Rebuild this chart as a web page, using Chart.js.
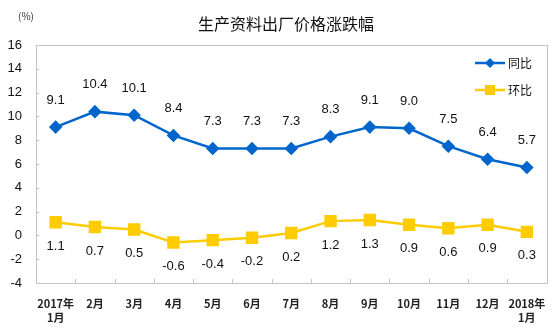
<!DOCTYPE html>
<html>
<head>
<meta charset="utf-8">
<script src="https://cdn.jsdelivr.net/npm/chart.js@4.4.1/dist/chart.umd.min.js"></script>
<style>
  html, body { margin: 0; padding: 0; background: #fff; }
  #wrap { width: 556px; height: 331px; }
</style>
</head>
<body>
<div id="wrap"><canvas id="c" width="556" height="331"></canvas></div>
<script>
// Monthly labels (Jan 2017 – Jan 2018)
const months = [["2017年", "1月"], "2月", "3月", "4月", "5月", "6月", "7月", "8月", "9月", "10月", "11月", "12月", ["2018年", "1月"]];
// Year-on-year change, %
const yoy = [9.1, 10.4, 10.1, 8.4, 7.3, 7.3, 7.3, 8.3, 9.1, 9.0, 7.5, 6.4, 5.7];
// Month-on-month change, %
const mom = [1.1, 0.7, 0.5, -0.6, -0.4, -0.2, 0.2, 1.2, 1.3, 0.9, 0.6, 0.9, 0.3];
const yTicks = [-4, -2, 0, 2, 4, 6, 8, 10, 12, 14, 16];

const BLUE = '#0066CC';
const YELLOW = '#FFCC00';
const NUM_FONT = '13px "Liberation Sans", Arial, sans-serif';
const CJK_FONT = '"Noto Sans CJK SC", sans-serif';

const decor = {
  id: 'decor',
  afterDatasetsDraw(chart) {
    const ctx = chart.ctx;
    const a = chart.chartArea;
    ctx.save();
    // plot frame
    ctx.strokeStyle = '#C4C4C4';
    ctx.lineWidth = 1;
    ctx.strokeRect(Math.round(a.left) + 0.5, Math.round(a.top) + 0.5,
                   Math.round(a.right - a.left), Math.round(a.bottom - a.top));
    // inward tick marks
    const xs = chart.scales.x, ys = chart.scales.y;
    ctx.beginPath();
    for (let i = 1; i < months.length; i++) {
      const x = Math.round((xs.getPixelForValue(i - 1) + xs.getPixelForValue(i)) / 2) + 0.5;
      ctx.moveTo(x, a.bottom); ctx.lineTo(x, a.bottom - 4);
    }
    yTicks.forEach(v => {
      const y = Math.round(ys.getPixelForValue(v)) + 0.5;
      ctx.moveTo(a.left, y); ctx.lineTo(a.left + 3, y);
    });
    ctx.stroke();

    // value labels
    ctx.fillStyle = '#111';
    ctx.font = NUM_FONT;
    ctx.textAlign = 'center';
    ctx.textBaseline = 'middle';
    chart.getDatasetMeta(0).data.forEach((p, i) => {
      ctx.fillText(yoy[i].toFixed(1), p.x, p.y - 27);
    });
    chart.getDatasetMeta(1).data.forEach((p, i) => {
      ctx.fillText(mom[i].toFixed(1), p.x, p.y + 24);
    });

    // title and unit
    ctx.font = '16px ' + CJK_FONT;
    ctx.fillText('生产资料出厂价格涨跌幅', 286, 24);
    ctx.font = '10px ' + CJK_FONT;
    ctx.fillStyle = '#333';
    ctx.fillText('(%)', 26, 16);

    // legend
    const items = [
      { label: '同比', color: BLUE, y: 63, marker: 'diamond' },
      { label: '环比', color: YELLOW, y: 90, marker: 'square' }
    ];
    items.forEach(it => {
      ctx.strokeStyle = it.color;
      ctx.lineWidth = 2.5;
      ctx.beginPath(); ctx.moveTo(475, it.y); ctx.lineTo(505, it.y); ctx.stroke();
      ctx.fillStyle = it.color;
      ctx.beginPath();
      if (it.marker === 'diamond') {
        ctx.moveTo(490, it.y - 5); ctx.lineTo(495, it.y); ctx.lineTo(490, it.y + 5); ctx.lineTo(485, it.y);
        ctx.closePath();
      } else {
        ctx.rect(485, it.y - 5, 10, 10);
      }
      ctx.fill();
      ctx.fillStyle = '#111';
      ctx.font = '12px ' + CJK_FONT;
      ctx.textAlign = 'left';
      ctx.fillText(it.label, 508, it.y);
    });
    ctx.restore();
  }
};

new Chart(document.getElementById('c'), {
  type: 'line',
  data: {
    labels: months,
    datasets: [
      {
        label: '同比', data: yoy, borderColor: BLUE, backgroundColor: BLUE,
        borderWidth: 2.5, pointStyle: 'rectRot', pointRadius: 5, pointHoverRadius: 5,
        tension: 0, fill: false
      },
      {
        label: '环比', data: mom, borderColor: YELLOW, backgroundColor: YELLOW,
        borderWidth: 2.5, pointStyle: 'rect', pointRadius: 7, pointHoverRadius: 7,
        tension: 0, fill: false
      }
    ]
  },
  options: {
    responsive: false,
    animation: false,
    events: [],
    layout: { padding: { top: 45, right: 5, left: 0, bottom: 0 } },
    plugins: { legend: { display: false }, tooltip: { enabled: false }, title: { display: false } },
    scales: {
      x: {
        offset: true,
        grid: { display: false },
        border: { display: false },
        ticks: {
          color: '#222', maxRotation: 0, autoSkip: false, padding: 5,
          font: { family: CJK_FONT, size: 11, weight: 'bold', lineHeight: 1.35 }
        },
        afterFit(s) { s.height = 48; }
      },
      y: {
        min: -4, max: 16,
        grid: { display: false },
        border: { display: false },
        afterBuildTicks(s) { s.ticks = yTicks.map(v => ({ value: v })); },
        ticks: {
          color: '#111', padding: 6,
          font: { family: '"Liberation Sans", Arial, sans-serif', size: 13 }
        },
        afterFit(s) { s.width = 36; }
      }
    }
  },
  plugins: [decor]
});
</script>
</body>
</html>
